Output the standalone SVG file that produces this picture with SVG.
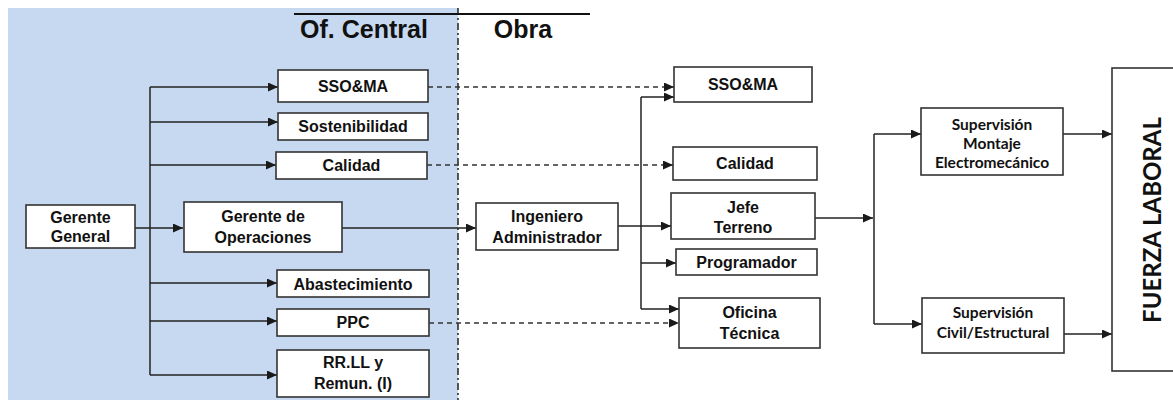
<svg xmlns="http://www.w3.org/2000/svg" width="1173" height="400" viewBox="0 0 1173 400">
  <defs>
    <marker id="arrow" viewBox="0 0 10 10" refX="10" refY="5" markerWidth="10" markerHeight="9" markerUnits="userSpaceOnUse" orient="auto" preserveAspectRatio="none">
      <path d="M0,0 L10,5 L0,10 z" fill="#1a1a1a"/>
    </marker>
    <style>
      .box { fill: #ffffff; stroke: #333333; stroke-width: 1.6; }
      .lbl { font-family: "Liberation Sans", Arial, sans-serif; font-weight: bold; font-size: 16px; fill: #111111; text-anchor: middle; }
      .sup { font-family: Lato, "Open Sans", sans-serif; font-weight: bold; font-size: 15.5px; fill: #111111; text-anchor: middle; }
      .head { font-family: "Liberation Sans", Arial, sans-serif; font-weight: bold; font-size: 25px; fill: #111111; text-anchor: middle; }
      .ln { fill: none; stroke: #222222; stroke-width: 1.5; }
      .arr { fill: none; stroke: #222222; stroke-width: 1.5; marker-end: url(#arrow); }
      .dash { fill: none; stroke: #333333; stroke-width: 1.5; stroke-dasharray: 5 4; marker-end: url(#arrow); }
    </style>
  </defs>

  <!-- central office zone -->
  <rect x="8" y="8" width="450" height="392" fill="#c6d9f0"/>
  <line x1="458" y1="8" x2="458" y2="400" stroke="#222222" stroke-width="1.5" stroke-dasharray="7 3 2 3"/>
  <line x1="294" y1="14" x2="590" y2="14" stroke="#111111" stroke-width="2"/>
  <text class="head" x="364" y="38">Of. Central</text>
  <text class="head" x="523" y="38">Obra</text>

  <!-- connectors -->
  <g id="connectors">
    <!-- Gerente General trunk -->
    <path class="ln" d="M150,87 V375"/>
    <path class="arr" d="M150,87 H278"/>
    <path class="arr" d="M150,122 H278"/>
    <path class="arr" d="M150,165 H276"/>
    <path class="arr" d="M135,228 H183"/>
    <path class="arr" d="M150,283 H277"/>
    <path class="arr" d="M150,321 H277"/>
    <path class="arr" d="M150,375 H277"/>
    <!-- operations to site -->
    <path class="arr" d="M342,228 H476"/>
    <!-- dashed functional links -->
    <path class="dash" d="M428,87 H674"/>
    <path class="dash" d="M427,165 H673"/>
    <path class="dash" d="M429,323 H679"/>
    <!-- Ingeniero Administrador trunk -->
    <path class="ln" d="M641,97 V309"/>
    <path class="arr" d="M641,97 H674"/>
    <path class="arr" d="M618,226 H671"/>
    <path class="arr" d="M641,263 H676"/>
    <path class="arr" d="M641,309 H679"/>
    <!-- Jefe Terreno to supervision -->
    <path class="arr" d="M815,218 H873"/>
    <path class="ln" d="M874,134 V324"/>
    <path class="arr" d="M874,134 H921"/>
    <path class="arr" d="M874,324 H922"/>
    <!-- supervision to workforce -->
    <path class="arr" d="M1063,134 H1112"/>
    <path class="arr" d="M1064,334 H1112"/>
  </g>

  <!-- central office nodes -->
  <g id="gerente-general">
    <rect class="box" x="26" y="205" width="109" height="43"/>
    <text class="lbl" x="80.5" y="223">Gerente</text>
    <text class="lbl" x="80.5" y="242">General</text>
  </g>
  <g id="gerente-operaciones">
    <rect class="box" x="184" y="202" width="158" height="50"/>
    <text class="lbl" x="263" y="222">Gerente de</text>
    <text class="lbl" x="263" y="243">Operaciones</text>
  </g>
  <g id="sso-central">
    <rect class="box" x="278" y="70" width="150" height="32"/>
    <text class="lbl" x="353" y="92">SSO&amp;MA</text>
  </g>
  <g id="sostenibilidad">
    <rect class="box" x="278" y="113" width="150" height="27"/>
    <text class="lbl" x="353" y="132">Sostenibilidad</text>
  </g>
  <g id="calidad-central">
    <rect class="box" x="276" y="152" width="151" height="27"/>
    <text class="lbl" x="351.5" y="171">Calidad</text>
  </g>
  <g id="abastecimiento">
    <rect class="box" x="277" y="270" width="152" height="27"/>
    <text class="lbl" x="353" y="290">Abastecimiento</text>
  </g>
  <g id="ppc">
    <rect class="box" x="277" y="309" width="152" height="27"/>
    <text class="lbl" x="353" y="328">PPC</text>
  </g>
  <g id="rrll">
    <rect class="box" x="277" y="350" width="152" height="47"/>
    <text class="lbl" x="353" y="368">RR.LL y</text>
    <text class="lbl" x="353" y="389">Remun. (I)</text>
  </g>

  <!-- site nodes -->
  <g id="ingeniero-administrador">
    <rect class="box" x="476" y="203" width="142" height="47"/>
    <text class="lbl" x="547" y="222">Ingeniero</text>
    <text class="lbl" x="547" y="243">Administrador</text>
  </g>
  <g id="sso-obra">
    <rect class="box" x="674" y="67" width="138" height="35"/>
    <text class="lbl" x="743" y="90">SSO&amp;MA</text>
  </g>
  <g id="calidad-obra">
    <rect class="box" x="673" y="147" width="144" height="33"/>
    <text class="lbl" x="745" y="169">Calidad</text>
  </g>
  <g id="jefe-terreno">
    <rect class="box" x="671" y="193" width="144" height="46"/>
    <text class="lbl" x="743" y="213">Jefe</text>
    <text class="lbl" x="743" y="233">Terreno</text>
  </g>
  <g id="programador">
    <rect class="box" x="676" y="249" width="141" height="26"/>
    <text class="lbl" x="746.5" y="268">Programador</text>
  </g>
  <g id="oficina-tecnica">
    <rect class="box" x="679" y="298" width="141" height="50"/>
    <text class="lbl" x="749.5" y="318">Oficina</text>
    <text class="lbl" x="749.5" y="339">Técnica</text>
  </g>
  <g id="supervision-montaje">
    <rect class="box" x="921" y="108" width="142" height="67"/>
    <text class="sup" x="992" y="130">Supervisión</text>
    <text class="sup" x="992" y="149">Montaje</text>
    <text class="sup" x="992" y="168">Electromecánico</text>
  </g>
  <g id="supervision-civil">
    <rect class="box" x="922" y="298" width="142" height="55"/>
    <text class="sup" x="993" y="318">Supervisión</text>
    <text class="sup" x="993" y="338">Civil/Estructural</text>
  </g>
  <g id="fuerza-laboral">
    <rect class="box" x="1112" y="68" width="80" height="303"/>
    <text x="0" y="0" transform="translate(1161,220) rotate(-90)" font-family="Lato, 'Open Sans', sans-serif" font-weight="bold" font-size="24" fill="#111111" text-anchor="middle">FUERZA LABORAL</text>
  </g>
</svg>
